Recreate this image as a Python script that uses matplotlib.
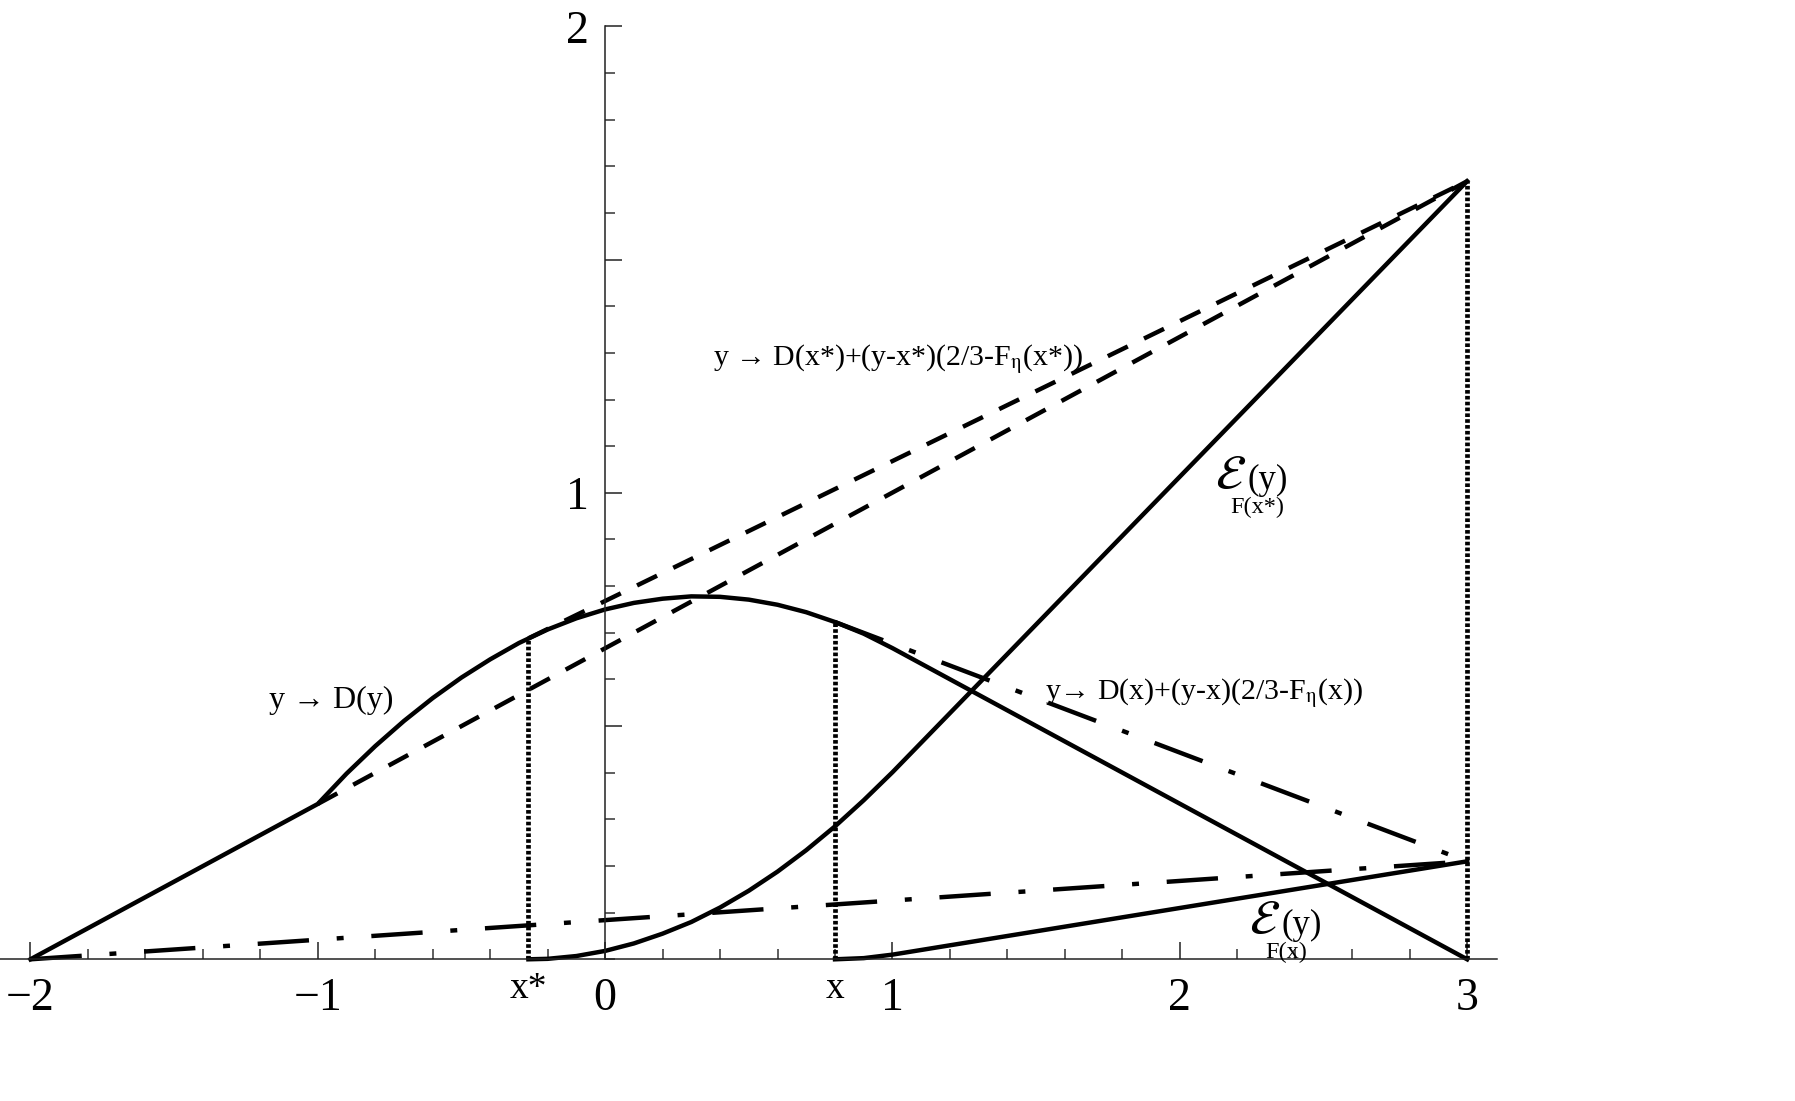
import matplotlib
matplotlib.use('Agg')
import matplotlib.pyplot as plt
from matplotlib.ticker import FixedLocator, MultipleLocator

# ---------------- data ----------------
x_star = -0.267
x_pt = 0.8

# y -> D(y)
d_x = [-2.0, -1.0, -0.9, -0.8, -0.7, -0.6, -0.5, -0.4, -0.3, -0.2, -0.1, 0.0,
       0.1, 0.2, 0.3, 0.4, 0.5, 0.6, 0.7, 0.8, 0.9, 1.0, 3.0]
d_y = [0.0, 0.333, 0.398, 0.457, 0.511, 0.560, 0.604, 0.643, 0.678, 0.707, 0.731, 0.750,
       0.764, 0.773, 0.778, 0.777, 0.771, 0.760, 0.744, 0.723, 0.698, 0.667, 0.0]

# E_{F(x*)}(y)
e_star_x = [-0.267, -0.2, -0.1, 0.0, 0.1, 0.2, 0.3, 0.4, 0.5, 0.6, 0.7, 0.8, 0.9, 1.0, 3.0]
e_star_y = [0.0, 0.001, 0.007, 0.018, 0.034, 0.055, 0.080, 0.111, 0.147, 0.188, 0.234,
            0.285, 0.341, 0.401, 1.668]

# E_{F(x)}(y)
e_x_x = [0.8, 0.9, 1.0, 3.0]
e_x_y = [0.0, 0.0025, 0.010, 0.210]

# dashed lines
tan_star_x = [-0.267, 3.0]
tan_star_y = [0.688, 1.668]
low_dash_x = [-1.0, 3.0]
low_dash_y = [0.333, 1.668]

# dash-dot lines
tan_x_x = [0.8, 3.0]
tan_x_y = [0.723, 0.210]
low_dd_x = [-2.0, 3.0]
low_dd_y = [0.0, 0.210]

# dotted verticals
vert_x = [-0.267, 0.8, 3.0]
vert_top = [0.688, 0.723, 1.668]

xtick_pos = [-2, -1, 0, 1, 2, 3]
xtick_lab = ['\u22122', '\u22121', '0', '1', '2', '3']
ytick_pos = [0.5, 1.0, 1.5, 2.0]
ytick_lab = ['', '1', '', '2']

# ---------------- style ----------------
plt.rcParams['font.family'] = ['Liberation Serif', 'DejaVu Serif']
plt.rcParams['mathtext.fontset'] = 'stix'
plt.rcParams['lines.scale_dashes'] = False

fig = plt.figure(figsize=(17.95, 11.01), dpi=100)
ax = fig.add_axes([0.0, 0.1287, 0.834, 0.8474])
ax.set_xlim(-2.106, 3.104)
ax.set_ylim(0, 2)

axc = '#222222'
for s in ['top', 'right']:
    ax.spines[s].set_visible(False)
ax.spines['left'].set_position(('data', 0))
ax.spines['left'].set_color(axc)
ax.spines['bottom'].set_color(axc)
ax.spines['left'].set_linewidth(1.1)
ax.spines['bottom'].set_linewidth(1.1)

ax.xaxis.set_major_locator(FixedLocator(xtick_pos))
ax.set_xticklabels(xtick_lab)
ax.xaxis.set_minor_locator(MultipleLocator(0.2))
ax.yaxis.set_major_locator(FixedLocator(ytick_pos))
ax.set_yticklabels(ytick_lab)
ax.yaxis.set_minor_locator(MultipleLocator(0.1))

ax.tick_params(axis='both', which='major', direction='in', length=12.5, width=1.1,
               color=axc, labelsize=33, labelcolor='black')
ax.tick_params(axis='both', which='minor', direction='in', length=7.2, width=1.1,
               color='#333333')
ax.tick_params(axis='x', which='major', pad=13)
ax.tick_params(axis='y', which='major', pad=12)

lw = 3.2
ax.plot(d_x, d_y, color='black', lw=lw, solid_joinstyle='round', clip_on=False)
ax.plot(e_star_x, e_star_y, color='black', lw=lw, solid_joinstyle='round', clip_on=False)
ax.plot(e_x_x, e_x_y, color='black', lw=lw, solid_joinstyle='round', clip_on=False)

ax.plot(tan_star_x, tan_star_y, color='black', lw=lw, dashes=(16, 13),
        dash_capstyle='butt', clip_on=False)
ax.plot(low_dash_x, low_dash_y, color='black', lw=lw, dashes=(16, 13),
        dash_capstyle='butt', clip_on=False)

ax.plot(tan_x_x, tan_x_y, color='black', lw=lw, dashes=(37, 20, 5, 20),
        dash_capstyle='butt', clip_on=False)
ax.plot(low_dd_x, low_dd_y, color='black', lw=lw, dashes=(37, 20, 5, 20),
        dash_capstyle='butt', clip_on=False)

for vx, vt in zip(vert_x, vert_top):
    ax.plot([vx, vx], [0, vt], color='black', lw=3.4, dashes=(2.6, 1.6),
            dash_capstyle='butt', clip_on=False)

# special x labels
ax.text(x_star, -0.083, 'x*', fontsize=27, ha='center', va='baseline', clip_on=False)
ax.text(x_pt, -0.083, 'x', fontsize=27, ha='center', va='baseline', clip_on=False)

# annotations
ax.text(-1.171, 0.554, 'y \u2192 D(y)', fontsize=23, ha='left', va='center')
ax.text(0.374, 1.287, 'y \u2192 D(x*)+(y-x*)(2/3-F$_{\\mathrm{\\eta}}$(x*))', fontsize=21.5,
        ha='left', va='center')
ax.text(1.530, 0.571, 'y\u2192 D(x)+(y-x)(2/3-F$_{\\mathrm{\\eta}}$(x))', fontsize=21.5,
        ha='left', va='center')

ax.text(2.121, 1.033, '$\\mathcal{E}$', fontsize=35, ha='left', va='center')
ax.text(2.236, 1.027, '(y)', fontsize=25, ha='left', va='center')
ax.text(2.174, 0.968, 'F(x*)', fontsize=17.5, ha='left', va='center')

ax.text(2.240, 0.079, '$\\mathcal{E}$', fontsize=35, ha='left', va='center')
ax.text(2.355, 0.073, '(y)', fontsize=25, ha='left', va='center')
ax.text(2.296, 0.0146, 'F(x)', fontsize=17.5, ha='left', va='center', clip_on=False)

fig.savefig('out.png', dpi=100)
